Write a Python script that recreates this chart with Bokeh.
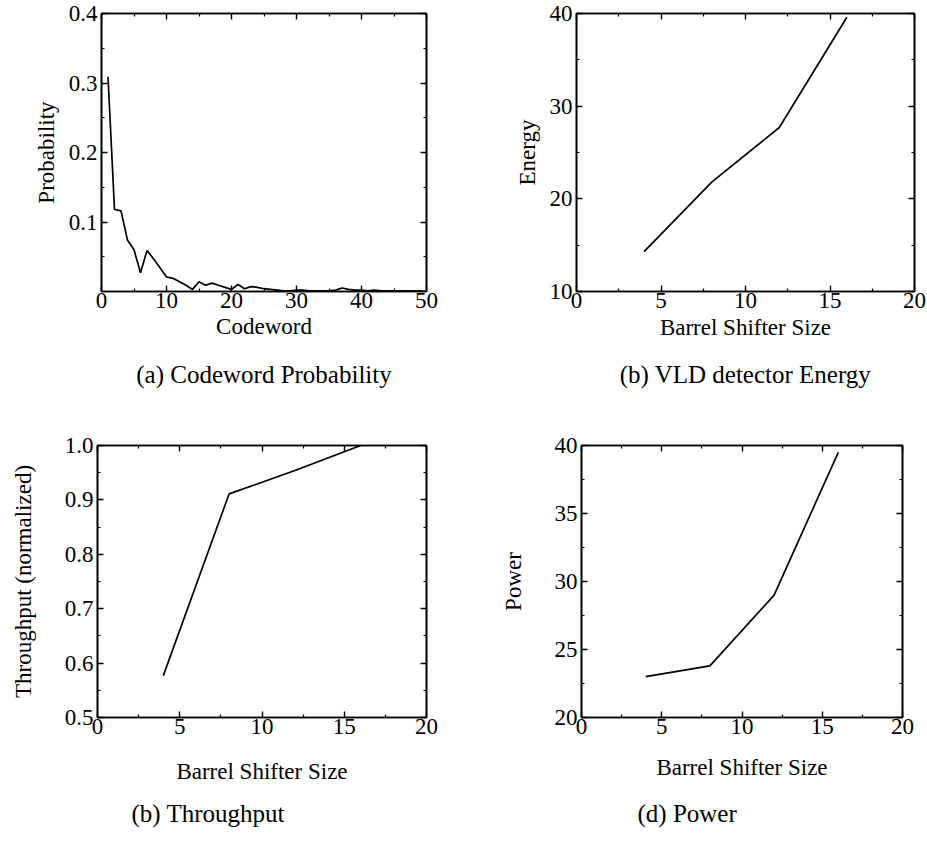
from bokeh.plotting import figure
from bokeh.models import (LinearAxis, FixedTicker, PrintfTickFormatter, Title, Range1d,
                          CustomLabelingPolicy)
from bokeh.layouts import row, column
from bokeh.embed import file_html
from bokeh.resources import INLINE

# ---------------- data ----------------
codeword = list(range(1, 51))
probability = [0.309, 0.118, 0.116, 0.074, 0.060, 0.027, 0.059, 0.047, 0.034, 0.021,
               0.019, 0.014, 0.009, 0.003, 0.014, 0.009, 0.012, 0.009, 0.006, 0.003,
               0.010, 0.004, 0.007, 0.006, 0.004, 0.003, 0.002, 0.001, 0.001, 0.002,
               0.002, 0.001, 0.001, 0.001, 0.001, 0.002, 0.005, 0.003, 0.002, 0.002,
               0.001, 0.002, 0.001, 0.001, 0.001, 0.001, 0.001, 0.001, 0.001, 0.000]

shifter_size = [4, 8, 12, 16]
energy = [14.3, 21.8, 27.7, 39.6]
throughput = [0.577, 0.911, 0.954, 1.0]
power = [23.0, 23.8, 29.0, 39.5]

a_xticks = [0, 10, 20, 30, 40, 50]
a_xminor = [5, 15, 25, 35, 45]
a_yticks = [0.1, 0.2, 0.3, 0.4]
a_yminor = [0.05, 0.15, 0.25, 0.35]

s_xticks = [0, 5, 10, 15, 20]
s_xminor = [2.5, 7.5, 12.5, 17.5]

b_yticks = [10, 20, 30, 40]
b_yminor = [15, 25, 35]

c_yticks = [0.5, 0.6, 0.7, 0.8, 0.9, 1.0]
c_yminor = [0.55, 0.65, 0.75, 0.85, 0.95]

d_yticks = [20, 25, 30, 35, 40]
d_yminor = [22.5, 27.5, 32.5, 37.5]

FONT = "Liberation Serif"
FS = "23px"
CAP_FS = "25px"


def make_axis(ticker, fmt, show_labels, label=None, label_standoff=0, label_pos=2):
    ax = LinearAxis(ticker=ticker, formatter=PrintfTickFormatter(format=fmt))
    ax.axis_line_color = "black"
    ax.axis_line_width = 1.6
    ax.major_tick_line_color = "black"
    ax.major_tick_line_width = 1.4
    ax.minor_tick_line_color = "black"
    ax.minor_tick_line_width = 1.2
    ax.major_tick_in = 6
    ax.major_tick_out = 0
    ax.minor_tick_in = 3
    ax.minor_tick_out = 0
    if show_labels:
        ax.major_label_text_font = FONT
        ax.major_label_text_font_size = FS
        ax.major_label_text_color = "black"
        ax.major_label_standoff = label_pos
        if label:
            ax.axis_label = label
            ax.axis_label_text_font = FONT
            ax.axis_label_text_font_size = FS
            ax.axis_label_text_font_style = "normal"
            ax.axis_label_text_color = "black"
            ax.axis_label_standoff = label_standoff
    else:
        ax.major_label_text_font_size = "0px"
        ax.major_label_standoff = 0
        ax.major_label_policy = CustomLabelingPolicy(code="return new Set()")
    return ax


def make_panel(xs, ys, xr, yr, xticks, xminor, yticks, yminor, yfmt,
               xlabel, ylabel, caption, width, height, left, right, top, bottom,
               ylab_standoff, xlab_standoff, cap_standoff, cap_align, cap_offset):
    p = figure(width=width, height=height,
               x_range=Range1d(*xr), y_range=Range1d(*yr),
               x_axis_type=None, y_axis_type=None,
               output_backend="svg", toolbar_location=None,
               min_border_left=left, min_border_right=right,
               min_border_top=top, min_border_bottom=bottom)
    p.outline_line_color = "black"
    p.outline_line_width = 1.6
    p.background_fill_color = "white"
    p.border_fill_color = "white"

    xt = FixedTicker(ticks=xticks, minor_ticks=xminor)
    yt = FixedTicker(ticks=yticks, minor_ticks=yminor)

    p.add_layout(make_axis(xt, "%d", True, xlabel, xlab_standoff, 1), "below")
    p.add_layout(make_axis(xt, "%d", False), "above")
    p.add_layout(make_axis(yt, yfmt, True, ylabel, ylab_standoff, 4), "left")
    p.add_layout(make_axis(yt, yfmt, False), "right")

    p.line(xs, ys, line_color="black", line_width=1.7)

    p.add_layout(Title(text=caption, align=cap_align, offset=cap_offset,
                       standoff=cap_standoff,
                       text_font=FONT, text_font_size=CAP_FS,
                       text_font_style="normal", text_color="black"), "below")
    return p


pa = make_panel(codeword, probability, (0, 50), (0, 0.4), a_xticks, a_xminor,
                a_yticks, a_yminor, "%.1f", "Codeword", "Probability",
                "(a) Codeword Probability", 476, 410, 101, 50, 13, 115,
                7, 3, 35, "center", 0)
pb = make_panel(shifter_size, energy, (0, 20), (10, 40), s_xticks, s_xminor,
                b_yticks, b_yminor, "%d", "Barrel Shifter Size", "Energy",
                "(b) VLD detector Energy", 451, 410, 100, 13, 12, 119,
                7, 4, 33, "center", 0)
pc = make_panel(shifter_size, throughput, (0, 20), (0.5, 1.0), s_xticks, s_xminor,
                c_yticks, c_yminor, "%.1f", "Barrel Shifter Size", "Throughput (normalized)",
                "(b) Throughput", 476, 431, 97, 50, 31, 119,
                26, 22, 23, "left", 34)
pd = make_panel(shifter_size, power, (0, 20), (20, 40), s_xticks, s_xminor,
                d_yticks, d_yminor, "%d", "Barrel Shifter Size", "Power",
                "(d) Power", 451, 431, 105, 25, 35, 112,
                26, 18, 30, "left", 56)

layout = column(row(pa, pb), row(pc, pd))

with open("out.html", "w") as f:
    f.write(file_html(layout, INLINE))
